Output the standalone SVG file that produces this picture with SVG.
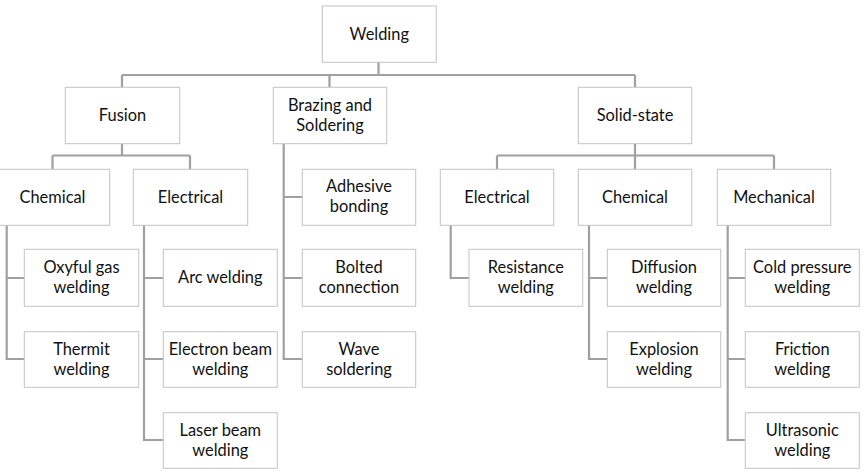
<svg xmlns="http://www.w3.org/2000/svg" width="864" height="476" viewBox="0 0 864 476">
<style>
.box{fill:#ffffff;stroke:#c4c4c4;stroke-width:1}
.lbl{font-family:"Lato","Open Sans",sans-serif;font-size:16.4px;fill:#111111;text-anchor:middle}
.con{fill:none;stroke:#a0a0a0;stroke-width:2.2}
</style>
<rect width="864" height="476" fill="#ffffff"/>
<g id="connectors" class="con">
<path d="M378.5 62V75M122 75H635M122 75V87M329.5 75V87M635 75V87"/>
<path d="M122 144V155.5M52.5 155.5H190M52.5 155.5V169M190 155.5V169"/>
<path d="M635 144V155.5M497 155.5H774M497 155.5V169M635 155.5V169M774 155.5V169"/>
<path d="M6.7 225V359H24M6.7 278H24"/>
<path d="M144 225V440H163M144 278H163M144 359H163"/>
<path d="M283.7 144V359H302M283.7 197H302M283.7 278H302"/>
<path d="M450.7 225V278H469"/>
<path d="M589 225V359H607M589 278H607"/>
<path d="M727.7 225V440H745M727.7 278H745M727.7 359H745"/>
</g>
<g id="n-welding"><rect class="box" x="322.3" y="6" width="114" height="56.3"/><text class="lbl" x="379.3" y="39.5">Welding</text></g>
<g id="n-fusion"><rect class="box" x="65.3" y="87.3" width="114.4" height="56.4"/><text class="lbl" x="122.5" y="121">Fusion</text></g>
<g id="n-brazing"><rect class="box" x="273.3" y="87.3" width="113.4" height="56.4"/><text class="lbl" x="330" y="110.5">Brazing and</text><text class="lbl" x="330" y="130.5">Soldering</text></g>
<g id="n-solid"><rect class="box" x="578.3" y="87.3" width="113.4" height="56.4"/><text class="lbl" x="635" y="121">Solid-state</text></g>
<g id="n-chem1"><rect class="box" x="-4.5" y="169.3" width="114.2" height="56"/><text class="lbl" x="52.5" y="202.5">Chemical</text></g>
<g id="n-elec1"><rect class="box" x="133.3" y="169.3" width="114.4" height="56"/><text class="lbl" x="190.5" y="202.5">Electrical</text></g>
<g id="n-adhesive"><rect class="box" x="302.3" y="169.3" width="113.4" height="56"/><text class="lbl" x="359" y="192">Adhesive</text><text class="lbl" x="359" y="212">bonding</text></g>
<g id="n-elec2"><rect class="box" x="440.3" y="169.3" width="113.4" height="56"/><text class="lbl" x="497" y="202.5">Electrical</text></g>
<g id="n-chem2"><rect class="box" x="578.3" y="169.3" width="113.4" height="56"/><text class="lbl" x="635" y="202.5">Chemical</text></g>
<g id="n-mech"><rect class="box" x="717.3" y="169.3" width="113.4" height="56"/><text class="lbl" x="774" y="202.5">Mechanical</text></g>
<g id="n-oxyful"><rect class="box" x="24.3" y="249.3" width="114.4" height="57"/><text class="lbl" x="81.5" y="273">Oxyful gas</text><text class="lbl" x="81.5" y="293">welding</text></g>
<g id="n-thermit"><rect class="box" x="24.3" y="331.7" width="114.4" height="55.6"/><text class="lbl" x="81.5" y="354.5">Thermit</text><text class="lbl" x="81.5" y="374.5">welding</text></g>
<g id="n-arc"><rect class="box" x="163.3" y="249.3" width="114" height="57"/><text class="lbl" x="220.3" y="283">Arc welding</text></g>
<g id="n-electron"><rect class="box" x="163.3" y="331.7" width="114" height="55.6"/><text class="lbl" x="220.3" y="354.5">Electron beam</text><text class="lbl" x="220.3" y="374.5">welding</text></g>
<g id="n-laser"><rect class="box" x="163.3" y="412.7" width="114" height="55.6"/><text class="lbl" x="220.3" y="435.5">Laser beam</text><text class="lbl" x="220.3" y="455.5">welding</text></g>
<g id="n-bolted"><rect class="box" x="302.3" y="249.3" width="113.4" height="57"/><text class="lbl" x="359" y="273">Bolted</text><text class="lbl" x="359" y="293">connection</text></g>
<g id="n-wave"><rect class="box" x="302.3" y="331.7" width="113.4" height="55.6"/><text class="lbl" x="359" y="354.5">Wave</text><text class="lbl" x="359" y="374.5">soldering</text></g>
<g id="n-resistance"><rect class="box" x="469" y="249.3" width="113.7" height="57"/><text class="lbl" x="525.8" y="273">Resistance</text><text class="lbl" x="525.8" y="293">welding</text></g>
<g id="n-diffusion"><rect class="box" x="607.3" y="249.3" width="113.4" height="57"/><text class="lbl" x="664" y="273">Diffusion</text><text class="lbl" x="664" y="293">welding</text></g>
<g id="n-explosion"><rect class="box" x="607.3" y="331.7" width="113.4" height="55.6"/><text class="lbl" x="664" y="354.5">Explosion</text><text class="lbl" x="664" y="374.5">welding</text></g>
<g id="n-cold"><rect class="box" x="745.3" y="249.3" width="114" height="57"/><text class="lbl" x="802.3" y="273">Cold pressure</text><text class="lbl" x="802.3" y="293">welding</text></g>
<g id="n-friction"><rect class="box" x="745.3" y="331.7" width="114" height="55.6"/><text class="lbl" x="802.3" y="354.5">Friction</text><text class="lbl" x="802.3" y="374.5">welding</text></g>
<g id="n-ultrasonic"><rect class="box" x="745.3" y="412.7" width="114" height="55.6"/><text class="lbl" x="802.3" y="435.5">Ultrasonic</text><text class="lbl" x="802.3" y="455.5">welding</text></g>
</svg>
